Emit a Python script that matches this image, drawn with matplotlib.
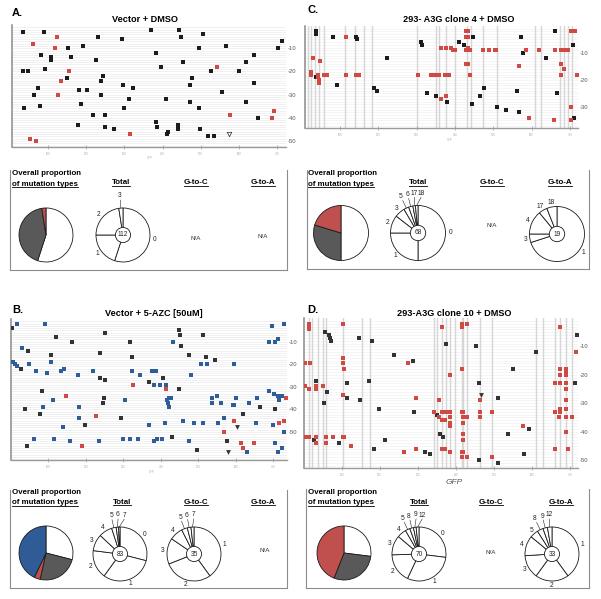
import matplotlib
matplotlib.use('Agg')
import matplotlib.pyplot as plt
import numpy as np
from matplotlib.lines import Line2D
from matplotlib.patches import Circle

plt.rcParams['font.family'] = ['Liberation Sans', 'DejaVu Sans']

# ---------------- DATA ----------------
x_ticks = [100, 200, 300, 400, 500, 600, 700]

A_black = [(34,-3),(89,-3),(231,-5),(293,-6),(370,-2),(443,-2),(449,-5),(507,-4),(192,-9),(153,-10),
           (567,-9),(702,-10),(713,-7),(496,-10),(82,-13),(109,-14),(107,-15),(159,-14),(225,-15),(383,-12),
           (639,-13),(453,-16),(395,-18),(618,-16),(34,-20),(47,-20),(91,-19),(527,-20),(600,-20),(151,-23),
           (243,-22),(238,-24),(477,-23),(640,-25),(75,-27),(181,-28),(201,-28),(297,-26),(322,-27),(471,-26),
           (556,-29),(63,-30),(240,-30),(313,-32),(409,-32),(471,-33),(618,-33),(80,-35),(187,-34),(299,-36),
           (37,-36),(496,-36),(218,-39),(250,-39),(649,-40),(178,-43),(383,-42),(386,-44),(441,-43),(250,-44),
           (274,-45),(441,-45),(499,-45),(414,-46),(411,-47),(519,-48),(534,-48)]
A_red = [(124,-5),(62,-8),(119,-10),(155,-20),(544,-18),(133,-24),(127,-30),(576,-39),(693,-37),(688,-40),
         (316,-47),(52,-49),(68,-50)]
A_tri = [(573,-47)]

B_blue = [(16,-2),(91,-2),(431,-10),(696,-3),(727,-2),(689,-10),(705,-10),(712,-9),(31,-13),(5,-19),(11,-20),
          (16,-21),(49,-20),(106,-19),(508,-20),(524,-20),(596,-20),(66,-23),(96,-24),(133,-23),(142,-22),
          (178,-25),(218,-23),(322,-23),(343,-25),(376,-23),(382,-23),(386,-23),(480,-25),(382,-29),(398,-29),
          (414,-29),(112,-36),(304,-36),(416,-36),(422,-35),(426,-35),(418,-37),(421,-39),(536,-35),(549,-34),
          (536,-37),(560,-37),(591,-38),(596,-38),(600,-35),(636,-37),(656,-35),(689,-32),(702,-33),(711,-34),
          (722,-34),(716,-36),(87,-39),(182,-39),(182,-44),(458,-45),(487,-46),(511,-46),(411,-46),(553,-46),
          (567,-44),(654,-46),(700,-47),(138,-48),(368,-47),(728,-50),(62,-53),(115,-53),(158,-54),(236,-54),
          (300,-53),(318,-53),(338,-53),(382,-54),(389,-53),(402,-53),(476,-54),(705,-55),(724,-57),(629,-59),
          (713,-59)]
B_black = [(2,-4),(251,-6),(120,-8),(162,-10),(318,-10),(447,-5),(450,-7),(454,-12),(513,-7),(47,-14),
           (106,-16),(238,-15),(322,-17),(475,-16),(520,-17),(544,-18),(26,-22),(238,-26),(251,-27),(368,-28),
           (405,-26),(447,-31),(82,-32),(247,-35),(245,-37),(665,-39),(705,-40),(38,-40),(78,-42),(618,-42),
           (293,-44),(198,-47),(429,-52),(576,-54),(42,-56),(496,-58)]
B_red = [(325,-29),(414,-31),(147,-34),(733,-35),(227,-43),(596,-45),(716,-46),(729,-45),(567,-50),
         (613,-55),(620,-57),(649,-55),(189,-56)]
B_tri = [(602,-48),(580,-59)]

C_black = [(38,-2),(38,-3),(81,-4),(142,-4),(145,-5),(311,-6),(315,-7),(223,-12),(38,-19),(92,-22),
           (189,-23),(197,-24),(328,-25),(351,-26),(378,-28),(410,-6),(423,-7),(446,-4),(571,-4),(662,-2),
           (707,-7),(577,-10),(638,-12),(476,-23),(562,-24),(665,-25),(465,-26),(445,-29),(510,-30),(532,-31),
           (566,-32),(710,-34)]
C_red = [(115,-4),(30,-12),(47,-13),(23,-17),(25,-18),(42,-18),(58,-18),(62,-18),(67,-18),(116,-18),
         (142,-18),(149,-18),(303,-18),(337,-18),(349,-18),(359,-18),(375,-18),(384,-18),(440,-18),(677,-18),
         (719,-18),(42,-19),(44,-20),(46,-21),(376,-26),(364,-27),(364,-8),(377,-8),(390,-8),(395,-9),
         (401,-9),(429,-9),(433,-8),(436,-9),(440,-9),(472,-9),(488,-9),(504,-9),(508,-9),(584,-9),(618,-9),
         (660,-9),(676,-9),(681,-9),(688,-9),(696,-9),(430,-2),(433,-2),(430,-4),(433,-4),(704,-2),(712,-2),
         (430,-14),(433,-14),(568,-15),(676,-14),(685,-16),(594,-34),(658,-35),(703,-30),(703,-35)]
C_vlines = [16,25,34,44,57,112,138,162,184,301,351,359,377,399,431,443,472,510,608,625,675,684,695,706]

D_black = [(55,-5),(68,-6),(70,-7),(73,-8),(146,-7),(180,-8),(237,-13),(287,-15),(32,-22),(115,-23),
           (172,-22),(61,-26),(115,-28),(149,-29),(54,-30),(199,-32),(290,-33),(350,-34),(26,-43),(94,-44),
           (213,-43),(185,-46),(318,-47),(333,-48),(367,-42),(718,-6),(374,-9),(452,-10),(610,-12),(550,-18),
           (461,-23),(712,-23),(511,-28),(591,-39),(359,-41),(536,-41),(578,-48),(461,-50),(511,-51)]
D_red = [(13,-2),(13,-3),(13,-4),(103,-2),(274,-16),(103,-14),(4,-16),(18,-16),(103,-16),(105,-18),
         (50,-24),(4,-24),(13,-25),(32,-24),(32,-25),(103,-27),(294,-28),(355,-29),(342,-33),(357,-35),
         (371,-33),(371,-36),(4,-42),(9,-42),(13,-42),(32,-42),(32,-44),(59,-42),(76,-42),(103,-42),
         (107,-42),(59,-44),(125,-45),(265,-47),(294,-46),(371,-46),(363,-3),(417,-2),(417,-3),(430,-2),
         (673,-3),(715,-12),(415,-18),(385,-20),(673,-18),(673,-20),(689,-18),(689,-19),(689,-20),(661,-23),
         (673,-23),(689,-23),(689,-25),(463,-29),(689,-29),(673,-32),(689,-32),(363,-33),(375,-33),(385,-33),
         (415,-33),(419,-33),(463,-33),(496,-33),(363,-36),(385,-35),(385,-37),(385,-38),(419,-35),(430,-35),
         (419,-37),(463,-35),(661,-33),(673,-33),(670,-35),(689,-35),(706,-35),(577,-38),(689,-40),(419,-41),
         (419,-43),(363,-46),(385,-47),(415,-47),(419,-47),(415,-49),(430,-49),(661,-46),(694,-46),(494,-49)]
D_tri = [(465,-27)]
D_vlines = [13,22,38,50,59,103,153,175,342,350,364,374,385,398,415,419,430,463,496,610,628,661,673,689,705]

# pie data (percent)
A_overall = [55, 42.5, 2.5]
A_total_labels = ['0', '1', '2', '3']
A_total = [55, 20, 22.5, 2.5]
C_overall = [50, 29.7, 20.3]
C_total_labels = ['0', '1', '2', '3', '5', '6', '17', '18']
C_total = [50, 25, 10.5, 6, 3, 2.5, 1.5, 1.5]
C_gta_labels = ['1', '3', '4', '17', '18']
C_gta = [70, 5, 14, 5, 6]
B_overall = [29, 24.5, 3.6, 42.9]
B_total_labels = ['0', '1', '2', '3', '4', '5', '6', '7']
B_total = [29, 31, 17, 10, 8, 2.7, 1.4, 0.9]
B_gtc_labels = ['1', '2', '3', '4', '5', '6', '7']
B_gtc = [40, 29, 15.5, 8, 3.5, 2.2, 1.8]
D_overall = [27, 29, 44]
D_total_labels = ['0', '1', '2', '3', '4', '5', '8', '9', '12']
D_total = [27, 30, 17.5, 11.7, 5.5, 2.8, 2.2, 1.6, 1.7]
D_gta_labels = ['1', '2', '3', '4', '5', '8', '9', '12']
D_gta = [40, 20, 14, 12, 5, 3.6, 2.7, 2.7]

# ---------------- STYLE ----------------
BLACK = '#1c1c1c'
RED = '#cf4a43'
BLUE = '#2f5d99'
PIE_GREY = '#595959'
PIE_RED = '#c0504d'
PIE_BLUE = '#2f5b96'

W, H = 601, 599
fig = plt.figure(figsize=(W / 100, H / 100), dpi=100)
fig.patch.set_facecolor('white')


def fx(px):
    return px / W


def fy(py):
    return 1 - py / H


def add_ax_px(x0, y0, x1, y1):
    return fig.add_axes([fx(x0), fy(y1), (x1 - x0) / W, (y1 - y0) / H])


def ftext(px, py, s, **kw):
    return fig.text(fx(px), fy(py), s, **kw)


def unzip(pts):
    return [p[0] for p in pts], [p[1] for p in pts]


def scatter_panel(box, xlim, ylim, ylabels, series, vlines=None, tris=None, tri_open=False,
                  hcol='#e6e6e6', msize=5):
    ax = add_ax_px(*box)
    ax.set_xlim(*xlim)
    ax.set_ylim(*ylim)
    for yv in range(-1, int(ylim[0]) - 1, -1):
        ax.axhline(yv, color=hcol, lw=0.45, zorder=0)
    if vlines:
        for xv in vlines:
            ax.axvline(xv, color='#d6d6d6', lw=1.0, zorder=1)
    for pts, color in series:
        xs, ys = unzip(pts)
        ax.scatter(xs, ys, marker='s', s=msize, color=color, linewidths=0, zorder=3)
    if tris:
        xs, ys = unzip(tris)
        if tri_open:
            ax.scatter(xs, ys, marker='v', s=10, facecolor='white', edgecolor='#222', linewidths=0.5, zorder=4)
        else:
            ax.scatter(xs, ys, marker='v', s=12, color='#333', linewidths=0, zorder=4)
    for s in ['top', 'right']:
        ax.spines[s].set_visible(False)
    ax.spines['left'].set_color('#8a8a8a')
    ax.spines['left'].set_linewidth(1.1)
    ax.spines['bottom'].set_color('#9a9a9a')
    ax.spines['bottom'].set_linewidth(1.0)
    ax.set_xticks(x_ticks)
    ax.set_xticklabels([str(t) for t in x_ticks])
    ax.tick_params(axis='x', direction='inout', length=2.5, width=0.5, color='#999999',
                   labelsize=2, labelcolor='#aaaaaa', pad=2)
    ax.yaxis.tick_right()
    ax.set_yticks(ylabels)
    ax.set_yticklabels([str(v) for v in ylabels])
    ax.tick_params(axis='y', length=0, labelsize=4.2, labelcolor='#555555', pad=1)
    return ax


def fan_angles(mids, fracs, small=0.045, sep=10, cap=368):
    ang = list(mids)
    idx = [i for i, f in enumerate(fracs) if f < small]
    for k in range(1, len(idx)):
        ang[idx[k]] = max(ang[idx[k]], ang[idx[k - 1]] + sep)
    c = cap
    for k in range(len(idx) - 1, -1, -1):
        j = idx[k]
        ang[j] = min(ang[j], c)
        c = ang[j] - sep
    return ang, set(idx)


def pie_px(cx, cy, r, values, colors, labels=None, center=None):
    ax = add_ax_px(cx - r, cy - r, cx + r, cy + r)
    ax.pie(values, colors=colors, startangle=90, counterclock=False, radius=1,
           wedgeprops=dict(edgecolor='#1a1a1a', linewidth=0.6))
    ax.set_xlim(-1, 1)
    ax.set_ylim(-1, 1)
    ax.set_aspect('auto')
    ax.axis('off')
    if labels:
        tot = float(sum(values))
        fr = [v / tot for v in values]
        cum = np.cumsum([0] + fr)
        mids = [(cum[i] + cum[i + 1]) / 2 * 360 for i in range(len(fr))]
        angs, smalls = fan_angles(mids, fr)
        for i, lab in enumerate(labels):
            a = angs[i]
            R = 1.45 if i in smalls else 1.17
            t = np.deg2rad(90 - a)
            ax.text(R * np.cos(t), R * np.sin(t), lab, ha='center', va='center',
                    fontsize=4.8, color='#222222', clip_on=False)
            if i in smalls:
                tm = np.deg2rad(90 - mids[i])
                ax.plot([np.cos(tm), 1.3 * np.cos(t)], [np.sin(tm), 1.3 * np.sin(t)],
                        color='#222222', lw=0.4, clip_on=False)
    if center:
        ax.add_patch(Circle((0, 0), 0.28, fc='white', ec='#1a1a1a', lw=0.6, zorder=5))
        ax.text(0, 0, center, ha='center', va='center', fontsize=4.8, color='#222222', zorder=6)
    return ax


# ---------------- SCATTER PANELS ----------------
scatter_panel((12, 25, 286, 147), (5.7, 723.5), (-52.6, 0), [-10, -20, -30, -40, -50],
              [(A_black, BLACK), (A_red, RED)], tris=A_tri, tri_open=True, hcol='#e8e8e8')
scatter_panel((11, 319, 287, 460), (0.5, 736), (-62.4, 0), [-10, -20, -30, -40, -50],
              [(B_black, '#333333'), (B_blue, BLUE), (B_red, RED)], tris=B_tri, hcol='#e8e8e8')
scatter_panel((305, 26, 578, 128), (8.6, 721), (-37.8, 0), [-10, -20, -30],
              [(C_black, BLACK), (C_red, RED)], vlines=C_vlines, hcol='#f0f0f0', msize=6.5)
scatter_panel((304, 318, 578, 468), (1, 721), (-52.8, 0), [-10, -20, -30, -40, -50],
              [(D_black, '#333333'), (D_red, RED)], vlines=D_vlines, tris=D_tri, hcol='#f0f0f0', msize=6.5)

# panel letters and titles
ftext(12, 13, 'A.', fontsize=8, fontweight='bold', va='center', ha='left')
ftext(307, 10, 'C.', fontsize=8, fontweight='bold', va='center', ha='left')
ftext(12, 310, 'B.', fontsize=8, fontweight='bold', va='center', ha='left')
ftext(307, 310, 'D.', fontsize=8, fontweight='bold', va='center', ha='left')
ftext(145, 19, 'Vector + DMSO', fontsize=6.6, fontweight='bold', ha='center', va='center')
ftext(459, 19, '293- A3G clone 4 + DMSO', fontsize=6.6, fontweight='bold', ha='center', va='center')
ftext(154, 313, 'Vector + 5-AZC [50uM]', fontsize=6.6, fontweight='bold', ha='center', va='center')
ftext(454, 313, '293-A3G clone 10 + DMSO', fontsize=6.6, fontweight='bold', ha='center', va='center')

# tiny GFP labels and big one
ftext(150, 158, 'GFP', fontsize=2, color='#aaaaaa', ha='center', va='center')
ftext(450, 140, 'GFP', fontsize=2, color='#aaaaaa', ha='center', va='center')
ftext(152, 472, 'GFP', fontsize=2, color='#aaaaaa', ha='center', va='center')
ftext(454, 483, 'GFP', fontsize=6, color='#555555', style='italic', ha='center', va='center')


# ---------------- PIE BOXES ----------------
def box_lines(x0, y0, x1, y1):
    for xs, ys in [((x0, x0), (y0, y1)), ((x1, x1), (y0, y1)), ((x0, x1), (y1, y1))]:
        fig.add_artist(Line2D([fx(v) for v in xs], [fy(v) for v in ys], color='#8c8c8c', lw=0.8,
                              transform=fig.transFigure))


box_lines(9.5, 170, 287, 270)
box_lines(307, 170, 589, 269)
box_lines(9.5, 490, 287, 588)
box_lines(306, 489, 589, 588)

underlined = []


def headers(x_left, y1, y2, x_tot, x_gc, x_ga):
    fs = 5.7
    ftext(x_left, y1, 'Overall proportion', fontsize=fs, fontweight='bold', ha='left', va='center')
    underlined.append(ftext(x_left, y2, 'of mutation types', fontsize=fs, fontweight='bold', ha='left', va='center'))
    underlined.append(ftext(x_tot, y2 - 1, 'Total', fontsize=fs, fontweight='bold', ha='center', va='center'))
    underlined.append(ftext(x_gc, y2 - 1, 'G-to-C', fontsize=fs, fontweight='bold', ha='center', va='center'))
    underlined.append(ftext(x_ga, y2 - 1, 'G-to-A', fontsize=fs, fontweight='bold', ha='center', va='center'))


headers(12, 174, 184, 121, 196, 263)
headers(308, 174, 184, 418, 492, 560)
headers(12, 493, 503, 122, 196, 263)
headers(308, 493, 503, 419, 491, 561)

for (px, py) in [(196, 238), (263, 237), (492, 225), (265, 550), (491, 552)]:
    ftext(px, py, 'N/A', fontsize=4.5, color='#333333', ha='center', va='center')

# pies
pie_px(46, 235, 27, A_overall, ['white', PIE_GREY, PIE_RED])
pie_px(123, 235, 27, A_total, ['white'] * len(A_total), A_total_labels, '112')
pie_px(341, 233, 27.5, C_overall, ['white', PIE_GREY, PIE_RED])
pie_px(418, 233, 27.5, C_total, ['white'] * len(C_total), C_total_labels, '68')
pie_px(557, 234, 27.5, C_gta, ['white'] * len(C_gta), C_gta_labels, '19')
pie_px(46, 553, 27, B_overall, ['white', PIE_GREY, PIE_RED, PIE_BLUE])
pie_px(120, 554, 27, B_total, ['white'] * len(B_total), B_total_labels, '83')
pie_px(194, 554, 27, B_gtc, ['white'] * len(B_gtc), B_gtc_labels, '35')
pie_px(344, 553, 27, D_overall, ['white', PIE_GREY, PIE_RED])
pie_px(419, 554, 27, D_total, ['white'] * len(D_total), D_total_labels, '70')
pie_px(552, 554, 27, D_gta, ['white'] * len(D_gta), D_gta_labels, '33')

# underlines
fig.canvas.draw()
renderer = fig.canvas.get_renderer()
for t in underlined:
    bb = t.get_window_extent(renderer)
    y = bb.y0 + 0.3
    fig.add_artist(Line2D([bb.x0 / W, bb.x1 / W], [y / H, y / H], color='black', lw=0.6,
                          transform=fig.transFigure))

fig.savefig('out.png', dpi=100, facecolor='white')
